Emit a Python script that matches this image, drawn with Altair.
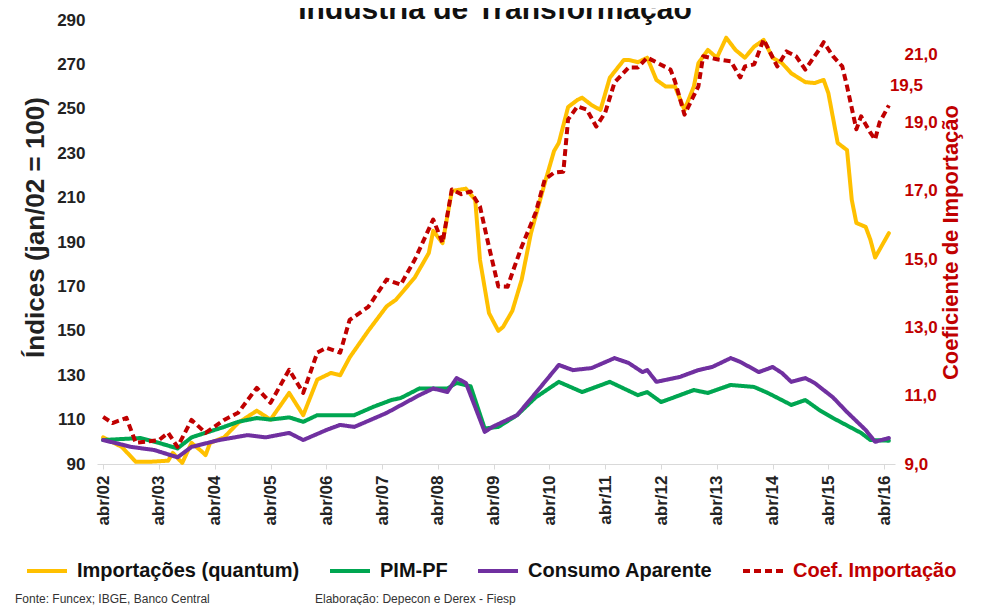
import altair as alt
import pandas as pd

series_names = ["Importações (quantum)", "PIM-PF", "Consumo Aparente", "Coef. Importação"]
series_colors = ["#FFC000", "#00A651", "#7030A0", "#C00000"]

imp_dates = ["2002-04", "2002-08", "2002-11", "2003-02", "2003-06", "2003-07", "2003-09", "2003-11",
             "2004-01", "2004-02", "2004-03", "2004-06", "2004-09", "2005-01", "2005-04", "2005-06",
             "2005-08", "2005-11", "2006-02", "2006-05", "2006-07", "2006-09", "2007-01", "2007-05",
             "2007-07", "2007-11", "2008-02", "2008-03", "2008-05", "2008-07", "2008-10", "2008-12",
             "2009-01", "2009-03", "2009-05", "2009-06", "2009-08", "2009-10", "2009-12", "2010-03",
             "2010-05", "2010-06", "2010-08", "2010-10", "2010-11", "2011-01", "2011-03", "2011-05",
             "2011-08", "2011-09", "2011-11", "2012-01", "2012-03", "2012-05", "2012-07", "2012-09",
             "2012-11", "2012-12", "2013-02", "2013-04", "2013-06", "2013-08", "2013-10", "2013-12",
             "2014-02", "2014-04", "2014-06", "2014-08", "2014-11", "2015-01", "2015-03", "2015-04",
             "2015-06", "2015-08", "2015-09", "2015-10", "2015-12", "2016-01", "2016-02", "2016-05"]
imp_vals = [102, 97.7, 91, 91, 91.5, 95, 90.5, 99.5,
            96, 94, 99.5, 102, 108.5, 114, 110, 116,
            122, 112, 128, 131, 130, 138, 150, 161,
            164, 174, 185, 195, 189.5, 213, 214, 209,
            182, 158, 150, 151.7, 159, 173, 194, 216.5,
            231, 234.6, 250.8, 254, 255, 251.7, 249.5, 264,
            272, 272, 271, 273, 263, 260, 260, 249.5,
            260, 270.6, 276.5, 273, 282, 276.5, 273, 278,
            281, 273, 270.6, 266, 262, 261.6, 263, 257,
            234.6, 231.4, 209, 198.6, 196.8, 191, 183, 194]

pim_dates = ["2002-04", "2002-12", "2003-04", "2003-08", "2003-11", "2004-06", "2004-09", "2005-01",
             "2005-04", "2005-08", "2005-11", "2006-02", "2006-10", "2007-02", "2007-06", "2007-08",
             "2007-12", "2008-06", "2008-08", "2008-11", "2009-02", "2009-05", "2009-09", "2010-01",
             "2010-06", "2010-11", "2011-05", "2011-11", "2012-01", "2012-04", "2012-11", "2013-02",
             "2013-07", "2013-12", "2014-03", "2014-08", "2014-11", "2015-02", "2015-05", "2015-11",
             "2016-01", "2016-05"]
pim_vals = [100.8, 101.7, 99.5, 97, 102, 106.7, 109, 110.7,
            110, 111, 109, 112, 112, 115.7, 118.8, 119.7,
            124, 124, 126.5, 125, 106, 106.7, 112, 120,
            127, 122.4, 127, 121, 122.4, 117.9, 123.3, 122,
            125.6, 124.7, 122, 116.6, 118.8, 114.3, 110.7, 104,
            100.8, 100.5]

cons_dates = ["2002-04", "2002-10", "2003-03", "2003-08", "2003-11", "2004-05", "2004-11", "2005-03",
              "2005-08", "2005-11", "2006-04", "2006-07", "2006-10", "2007-05", "2007-12", "2008-03",
              "2008-06", "2008-08", "2008-10", "2009-02", "2009-04", "2009-09", "2010-01", "2010-06",
              "2010-09", "2011-01", "2011-06", "2011-09", "2011-12", "2012-01", "2012-03", "2012-08",
              "2012-12", "2013-03", "2013-07", "2013-09", "2014-01", "2014-04", "2014-06", "2014-08",
              "2014-11", "2015-01", "2015-05", "2015-08", "2015-12", "2016-02", "2016-05"]
cons_vals = [100.8, 97.7, 96.3, 93, 97.7, 100.8, 103, 102,
             104, 100.8, 105.3, 107.6, 106.7, 113, 121, 124,
             122.4, 128.7, 126.5, 104.5, 107, 112, 122, 134.6,
             132.3, 133.2, 137.7, 135.5, 131.4, 132.3, 127, 129.2,
             132.3, 133.7, 137.7, 136, 131.4, 133.7, 131, 127,
             128.7, 126.5, 120, 113.4, 105.3, 100, 101.7]

coef_dates = ["2002-04", "2002-06", "2002-09", "2002-11", "2003-04", "2003-06", "2003-08", "2003-11",
              "2004-02", "2004-06", "2004-09", "2005-01", "2005-04", "2005-08", "2005-11", "2006-02",
              "2006-04", "2006-07", "2006-09", "2007-01", "2007-05", "2007-08", "2007-11", "2008-03",
              "2008-05", "2008-07", "2008-09", "2008-11", "2009-01", "2009-03", "2009-05", "2009-07",
              "2009-08", "2009-10", "2010-01", "2010-03", "2010-05", "2010-07", "2010-08", "2010-10",
              "2010-12", "2011-02", "2011-04", "2011-06", "2011-09", "2011-11", "2012-01", "2012-03",
              "2012-06", "2012-07", "2012-09", "2012-12", "2013-01", "2013-04", "2013-07", "2013-09",
              "2013-10", "2013-12", "2014-02", "2014-05", "2014-07", "2014-09", "2014-11", "2015-02",
              "2015-03", "2015-05", "2015-07", "2015-08", "2015-10", "2015-11", "2016-01", "2016-02",
              "2016-03", "2016-05"]
coef_vals = [10.38, 10.2, 10.35, 9.62, 9.7, 9.91, 9.5, 10.29,
             9.91, 10.29, 10.5, 11.23, 10.79, 11.76, 11.08, 12.26,
             12.4, 12.26, 13.22, 13.6, 14.4, 14.25, 14.98, 16.16,
             15.48, 17.04, 16.9, 16.98, 16.54, 15.36, 14.2, 14.19,
             14.6, 15.36, 16.36, 17.33, 17.53, 17.56, 19.09, 19.47,
             19.38, 18.88, 19.29, 20.17, 20.61, 20.61, 20.9, 20.76,
             20.55, 20.2, 19.23, 20.06, 20.94, 20.85, 20.79, 20.32,
             20.64, 20.7, 21.43, 20.64, 21.08, 20.94, 20.55, 21.14,
             21.35, 20.94, 20.64, 20.06, 18.8, 19.18, 18.7, 18.5,
             19.0, 19.5]

left_ticks = [90, 110, 130, 150, 170, 190, 210, 230, 250, 270, 290]
right_ticks = [9, 11, 13, 15, 17, 19, 21]
tick_years = list(range(2002, 2017))
end_label = ["19,5"]

title_text = "Indústria de Transformação"
note_source = "Fonte: Funcex; IBGE, Banco Central"
note_author = "Elaboração: Depecon e Derex - Fiesp"

FONT = "Liberation Sans"


def frame(name, dates, vals):
    return pd.DataFrame({"series": name, "date": [d + "-01" for d in dates], "value": vals})


left_df = pd.concat([
    frame(series_names[0], imp_dates, imp_vals),
    frame(series_names[1], pim_dates, pim_vals),
    frame(series_names[2], cons_dates, cons_vals),
], ignore_index=True)
right_df = frame(series_names[3], coef_dates, coef_vals)
last_df = right_df.tail(1).copy()
last_df["label"] = end_label

x_enc = alt.X(
    "date:T",
    scale=alt.Scale(domain=[alt.DateTime(year=2002, month=2, date=20),
                            alt.DateTime(year=2016, month=6, date=10)]),
    axis=alt.Axis(
        values=[alt.DateTime(year=y, month=4, date=1) for y in tick_years],
        labelExpr="'abr/' + timeFormat(datum.value, '%y')",
        labelAngle=270, labelFont=FONT, labelFontSize=17, labelFontWeight="bold",
        labelColor="#222222", labelPadding=6,
        tickColor="#d9d9d9", tickSize=5, domainColor="#d9d9d9", grid=False, title=None,
    ),
)

color_enc = alt.Color(
    "series:N",
    scale=alt.Scale(domain=series_names, range=series_colors),
    legend=alt.Legend(
        title=None, orient="none", direction="horizontal", columns=4,
        legendX=-72, legendY=529,
        symbolType="stroke", symbolSize=1600, symbolStrokeWidth=5,
        labelFont=FONT, labelFontSize=20, labelFontWeight="bold", labelLimit=0,
        labelOffset=8, columnPadding=22, padding=0,
        labelColor=alt.ExprRef("datum.label === 'Coef. Importação' ? '#C00000' : '#111111'"),
    ),
)
dash_enc = alt.StrokeDash(
    "series:N",
    scale=alt.Scale(domain=series_names, range=[[1, 0], [1, 0], [1, 0], [7, 4]]),
)
width_enc = alt.StrokeWidth(
    "series:N",
    scale=alt.Scale(domain=series_names, range=[4, 4, 5, 2.5]),
)

left_lines = alt.Chart(left_df).mark_line(strokeCap="round", strokeJoin="round").encode(
    x=x_enc,
    y=alt.Y("value:Q", scale=alt.Scale(domain=[90, 290], nice=False),
            axis=alt.Axis(values=left_ticks, orient="left", domain=False, ticks=False, grid=False,
                          labelFont=FONT, labelFontSize=17, labelFontWeight="bold",
                          labelColor="#222222", labelPadding=12,
                          title="Índices (jan/02 = 100)", titleFont=FONT, titleFontSize=26,
                          titleFontWeight="bold", titleColor="#222222", titlePadding=8,
                          titleY=207)),
    color=color_enc, strokeDash=dash_enc, strokeWidth=width_enc,
    order=alt.Order("date:T"),
)

y_right = alt.Y("value:Q", scale=alt.Scale(domain=[9, 22], nice=False),
                axis=alt.Axis(values=right_ticks, orient="right", domain=False, ticks=False, grid=False,
                              labelExpr="replace(format(datum.value, '.1f'), '.', ',')",
                              labelFont=FONT, labelFontSize=17, labelFontWeight="bold",
                              labelColor="#C00000", labelPadding=9,
                              title="Coeficiente de Importação", titleFont=FONT, titleFontSize=22,
                              titleFontWeight="bold", titleColor="#C00000", titleAngle=270,
                              titleBaseline="top", titlePadding=3))

right_line = alt.Chart(right_df).mark_line(strokeJoin="round").encode(
    x=x_enc, y=y_right, color=color_enc, strokeDash=dash_enc, strokeWidth=width_enc,
    order=alt.Order("date:T"),
)
right_text = alt.Chart(last_df).mark_text(
    align="left", baseline="middle", dx=1, dy=-19, font=FONT, fontSize=17,
    fontWeight="bold", color="#C00000",
).encode(x=x_enc, y=y_right, text="label:N")

right_layer = alt.layer(right_line, right_text)

title_mark = alt.Chart(pd.DataFrame({"t": [title_text]})).mark_text(
    align="center", baseline="alphabetic", font=FONT, fontSize=30, fontWeight="bold", color="#111111"
).encode(x=alt.value(398), y=alt.value(-1), text="t:N")

note1 = alt.Chart(pd.DataFrame({"t": [note_source]})).mark_text(
    align="left", baseline="alphabetic", font=FONT, fontSize=12, color="#333333"
).encode(x=alt.value(-82), y=alt.value(583), text="t:N")
note2 = alt.Chart(pd.DataFrame({"t": [note_author]})).mark_text(
    align="left", baseline="alphabetic", font=FONT, fontSize=12, color="#333333"
).encode(x=alt.value(218), y=alt.value(583), text="t:N")

chart = alt.layer(left_lines, right_layer, title_mark, note1, note2).resolve_scale(
    y="independent"
).properties(
    width=798, height=444,
    autosize=alt.AutoSizeParams(type="none"),
    padding={"left": 89, "top": 12, "right": 78, "bottom": 141},
    background="white",
).configure_view(stroke=None)

chart.save("out.html", embed_options={"renderer": "svg", "actions": False})
